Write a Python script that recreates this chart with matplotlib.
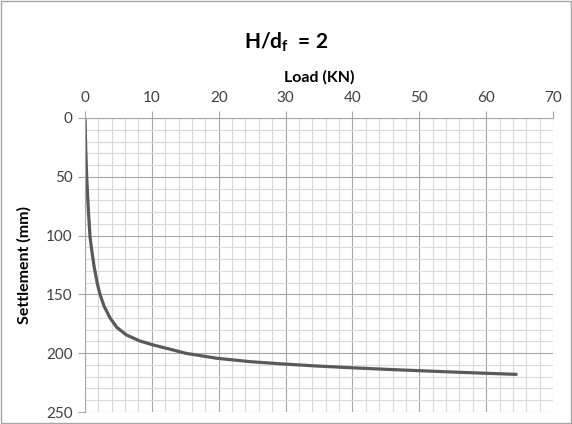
import matplotlib
matplotlib.use("Agg")
import matplotlib.pyplot as plt
from matplotlib.ticker import MultipleLocator
from matplotlib.patches import Rectangle

plt.rcParams['font.family'] = ['Lato', 'DejaVu Sans']
plt.rcParams['mathtext.fontset'] = 'custom'
plt.rcParams['mathtext.rm'] = 'Lato'
plt.rcParams['mathtext.bf'] = 'Lato:bold'

# load-settlement curve
load = [0, 0.1, 0.25, 0.5, 0.75, 1.0, 1.35, 1.85, 2.25, 2.85, 3.75, 4.75,
        6.2, 8.2, 10.2, 13.2, 15.0, 19.7, 24.7, 29.7, 34.7, 39.6, 45.0,
        50.1, 55.0, 60.1, 64.5]
settlement = [0, 25, 50, 78, 101, 112, 126, 141, 150, 160, 170, 178,
              184.5, 189.6, 193, 197.3, 200, 204.3, 207.2, 209.2, 210.9,
              212.3, 213.7, 214.9, 216, 217.1, 218]

title = r'H/d$_\mathbf{f}$  = 2'
xlabel = 'Load (KN)'
ylabel = 'Settlement (mm)'

fig = plt.figure(figsize=(5.72, 4.24), dpi=100)
ax = fig.add_axes([0.1486, 0.0283, 0.8182, 0.6934])

ax.plot(load, settlement, color='#595959', lw=2.3, solid_capstyle='round',
        solid_joinstyle='round')

ax.set_xlim(0, 70)
ax.set_ylim(250, 0)
ax.xaxis.set_major_locator(MultipleLocator(10))
ax.xaxis.set_minor_locator(MultipleLocator(2))
ax.yaxis.set_major_locator(MultipleLocator(50))
ax.yaxis.set_minor_locator(MultipleLocator(10))
ax.xaxis.tick_top()
ax.xaxis.set_label_position('top')

ax.grid(which='major', color='#a6a6a6', lw=0.8)
ax.grid(which='minor', color='#d9d9d9', lw=0.8)
ax.set_axisbelow(True)
for s in ax.spines.values():
    s.set_visible(False)
ax.spines['top'].set_visible(True)
ax.spines['left'].set_visible(True)
ax.spines['top'].set_color('#a6a6a6')
ax.spines['left'].set_color('#a6a6a6')

ax.tick_params(which='major', length=5, color='#a6a6a6', labelsize=11,
               labelcolor='#404040', pad=4)
ax.tick_params(which='minor', length=0)

ax.set_xlabel(xlabel, fontsize=11.5, fontweight='bold', labelpad=7)
ax.set_ylabel(ylabel, fontsize=11.5, fontweight='bold', labelpad=10)

fig.text(0.5, 0.9, title, ha='center', va='center', fontsize=15,
         fontweight='bold')

fig.patches.append(Rectangle((0.002, 0.002), 0.996, 0.996, transform=fig.transFigure,
                             fill=False, edgecolor='#a6a6a6', lw=1))

fig.savefig('out.png', dpi=100)
